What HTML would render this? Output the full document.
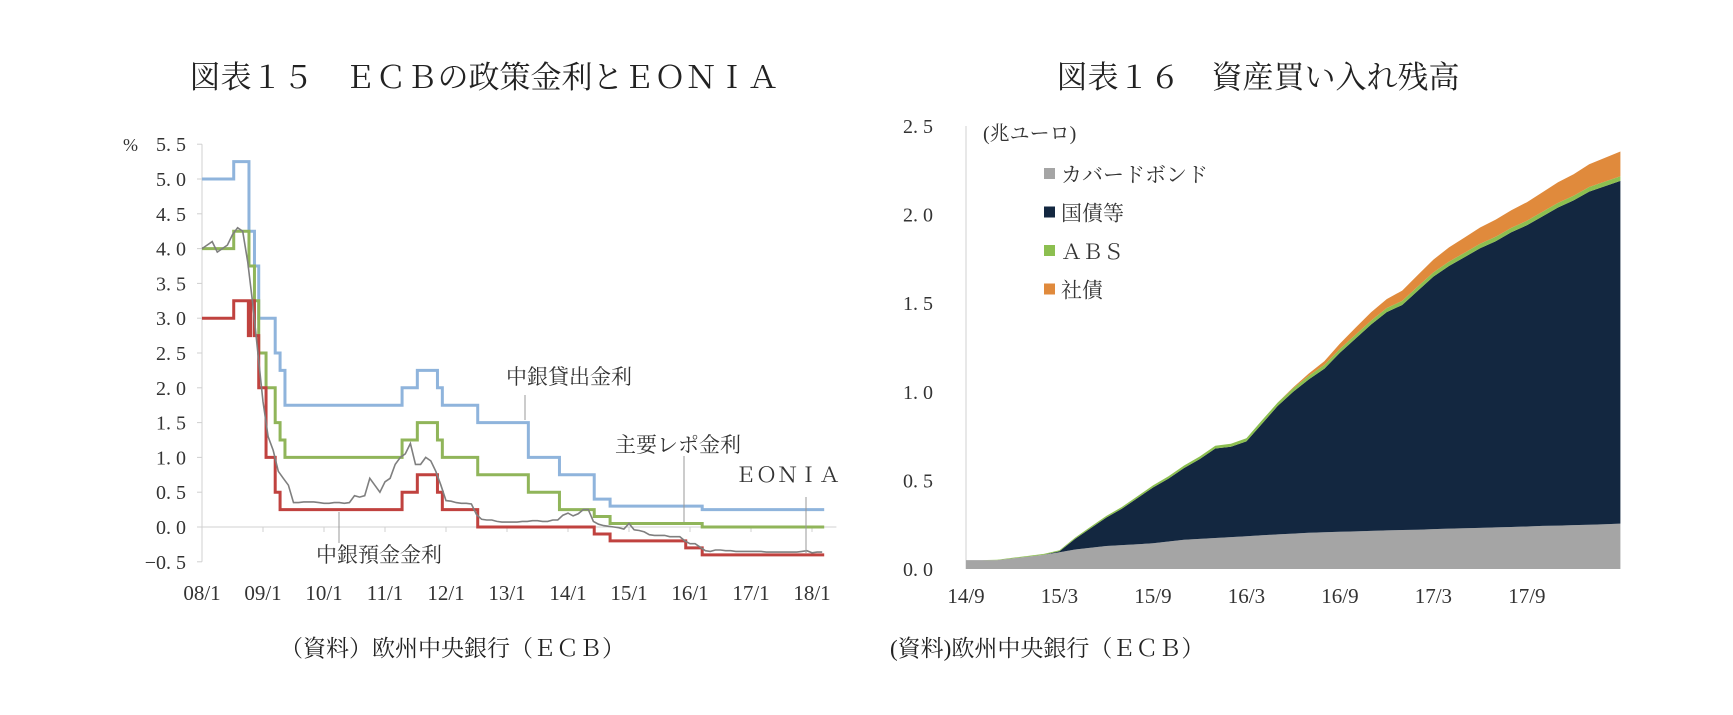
<!DOCTYPE html>
<html><head><meta charset="utf-8"><style>
body{margin:0;background:#fff}
svg{display:block;font-family:"Liberation Serif","Noto Serif CJK SC",serif}
</style></head><body>
<svg id="s" width="1733" height="715" viewBox="0 0 1733 715">
<text x="484" y="88" font-size="31" text-anchor="middle" fill="#222">図表１５　ＥＣＢの政策金利とＥＯＮＩＡ</text>
<text x="1258" y="88" font-size="31" text-anchor="middle" fill="#222">図表１６　資産買い入れ残高</text>
<g id="L"></g>
<g id="R"></g>
<text x="280" y="656" font-size="23" fill="#222">（資料）欧州中央銀行（ＥＣＢ）</text>
<text x="890" y="656" font-size="23" fill="#222">(資料)欧州中央銀行（ＥＣＢ）</text>
</svg>
<script>
// ---- Left chart data (dates = years since 2008/1) ----
const yTicksL = [-0.5,0,0.5,1,1.5,2,2.5,3,3.5,4,4.5,5,5.5];
const xLabelsL = ["08/1","09/1","10/1","11/1","12/1","13/1","14/1","15/1","16/1","17/1","18/1"];
const lendDates = [0,0.52,0.77,0.86,0.93,1.05,1.2,1.28,1.36,3.28,3.53,3.86,3.94,4.52,5.35,5.86,6.43,6.69,8.2];
const lendValues= [5.0,5.25,4.25,3.75,3.0,3.0,2.5,2.25,1.75,2.0,2.25,2.0,1.75,1.5,1.0,0.75,0.4,0.3,0.25];
const mroDates  = [0,0.52,0.77,0.86,0.93,1.05,1.2,1.28,1.36,3.28,3.53,3.86,3.94,4.52,5.35,5.86,6.43,6.69,8.2];
const mroValues = [4.0,4.25,3.75,3.25,2.5,2.0,1.5,1.25,1.0,1.25,1.5,1.25,1.0,0.75,0.5,0.25,0.15,0.05,0.0];
const depDates  = [0,0.52,0.76,0.8,0.86,0.93,1.05,1.2,1.28,3.28,3.53,3.86,3.94,4.52,6.43,6.69,7.93,8.2];
const depValues = [3.0,3.25,2.75,3.25,2.75,2.0,1.0,0.5,0.25,0.5,0.75,0.5,0.25,0.0,-0.1,-0.2,-0.3,-0.4];
const eoniaValues = [
4.0,4.05,4.1,3.95,4.0,4.05,4.2,4.3,4.25,3.8,3.2,2.5,
1.8,1.3,1.1,0.8,0.7,0.6,0.35,0.35,0.36,0.36,0.36,0.35,
0.34,0.34,0.35,0.35,0.34,0.35,0.45,0.43,0.45,0.7,0.6,0.5,
0.65,0.7,0.9,1.0,1.05,1.2,0.9,0.9,1.0,0.95,0.8,0.6,
0.38,0.37,0.35,0.34,0.34,0.33,0.18,0.11,0.1,0.1,0.08,0.07,
0.07,0.07,0.07,0.08,0.08,0.09,0.09,0.08,0.08,0.1,0.1,0.17,
0.2,0.16,0.19,0.25,0.25,0.08,0.04,0.02,0.01,0.0,-0.01,-0.03,
0.05,-0.04,-0.05,-0.07,-0.11,-0.12,-0.12,-0.12,-0.14,-0.14,-0.14,-0.2,
-0.24,-0.24,-0.29,-0.34,-0.35,-0.33,-0.33,-0.34,-0.34,-0.35,-0.35,-0.35,
-0.35,-0.35,-0.35,-0.36,-0.36,-0.36,-0.36,-0.36,-0.36,-0.36,-0.35,-0.34,
-0.37,-0.36,-0.36];
const endDateL = 10.2;

// ---- Right chart data (months since 2014/9) ----
const yTicksR = [0,0.5,1,1.5,2,2.5];
const xLabelsR = ["14/9","15/3","15/9","16/3","16/9","17/3","17/9"];
const coveredValues = [.05,.05,.05,.06,.07,.08,.095,.11,.12,.13,.135,.14,.145,.155,.165,.17,.175,.18,.185,.19,.195,.2,.205,.207,.21,.212,.215,.218,.22,.222,.225,.228,.23,.232,.235,.237,.24,.243,.245,.248,.25,.253,.256];
const govValues = [0,0,0,0,0,0,.005,.06,.11,.16,.205,.26,.315,.355,.405,.45,.505,.51,.535,.63,.725,.8,.865,.923,1.01,1.088,1.165,1.232,1.27,1.348,1.425,1.482,1.53,1.578,1.615,1.663,1.7,1.747,1.795,1.832,1.88,1.907,1.934];
const absValues = [0,0,.002,.003,.004,.005,.006,.007,.008,.009,.01,.011,.012,.013,.014,.015,.016,.017,.018,.019,.019,.02,.021,.022,.022,.022,.022,.023,.023,.024,.024,.025,.025,.025,.025,.025,.025,.026,.026,.026,.026,.026,.026];
const corpValues = [0,0,0,0,0,0,0,0,0,0,0,0,0,0,0,0,0,0,0,0,0,.005,.012,.02,.03,.04,.047,.05,.058,.065,.072,.08,.086,.092,.097,.1,.105,.11,.116,.122,.128,.134,.14];
const legendLabels = ["カバードボンド","国債等","ＡＢＳ","社債"];

const NS="http://www.w3.org/2000/svg";
function mk(parent,tag,attrs,text){const e=document.createElementNS(NS,tag);for(const k in attrs)e.setAttribute(k,attrs[k]);if(text!==undefined)e.textContent=text;parent.appendChild(e);return e;}

// ---- left axes ----
const L=document.getElementById('L');
const lx=t=>202+t*61, ly=v=>527-v*69.6;
let e;
e=mk(L,'line',{x1:202,y1:ly(5.5),x2:202,y2:ly(-0.5),stroke:'#d0d0d0'});


e=mk(L,'line',{x1:202,y1:ly(0),x2:lx(10.4),y2:ly(0),stroke:'#d0d0d0'});


yTicksL.forEach(v=>{
  mk(L,'line',{x1:197,y1:ly(v),x2:202,y2:ly(v),stroke:'#d0d0d0'});
  e=mk(L,'text',{x:186,y:ly(v)+7,'font-size':20,'text-anchor':'end',fill:'#333'},(v<0?'−':'')+Math.abs(v).toFixed(1).replace('.','. '));
  
  
});
e=mk(L,'text',{x:123,y:ly(5.5)+7,'font-size':18,fill:'#333'},'%');


xLabelsL.forEach((s,i)=>{
  if(i>0) mk(L,'line',{x1:lx(i),y1:ly(0),x2:lx(i),y2:ly(0)+5,stroke:'#d0d0d0'});
  e=mk(L,'text',{x:lx(i),y:600,'font-size':21,'text-anchor':'middle',fill:'#333'},s);
  
  
});
function stepPath(d,v){let p='M'+lx(d[0])+','+ly(v[0]);for(let i=1;i<d.length;i++){p+='H'+lx(d[i])+'V'+ly(v[i]);}return p+'H'+lx(endDateL);}
let ep='';eoniaValues.forEach((v,i)=>{ep+=(i?'L':'M')+lx(i/12).toFixed(1)+','+ly(v).toFixed(1);});
e=mk(L,'path',{d:stepPath(lendDates,lendValues),fill:'none',stroke:'#8fb4dc','stroke-width':3});


e=mk(L,'path',{d:stepPath(mroDates,mroValues),fill:'none',stroke:'#90b55a','stroke-width':3});


e=mk(L,'path',{d:stepPath(depDates,depValues),fill:'none',stroke:'#c0423f','stroke-width':3});


e=mk(L,'path',{d:ep,fill:'none',stroke:'#7f7f7f','stroke-width':1.6});


const anns=[["中銀貸出金利",506,384,525,395,420],["主要レポ金利",615,452,684,456,522],["ＥＯＮＩＡ",735,482,806,497,553],["中銀預金金利",316,562,339,543,512]];
anns.forEach(a=>{
  e=mk(L,'text',{x:a[1],y:a[2],'font-size':21,fill:'#333'},a[0]);
  
  
  mk(L,'line',{x1:a[3],y1:a[4],x2:a[3],y2:a[5],stroke:'#999','stroke-width':1});
});

// ---- right chart ----
const R=document.getElementById('R');
const rx=i=>966+i*15.58, ry=v=>569-v*177.2;
e=mk(R,'line',{x1:966,y1:ry(2.5),x2:966,y2:ry(0),stroke:'#d0d0d0'});


yTicksR.forEach(v=>{
  e=mk(R,'text',{x:933,y:ry(v)+7,'font-size':20,'text-anchor':'end',fill:'#333'},v.toFixed(1).replace('.','. '));
  
  
});
xLabelsR.forEach((s,i)=>{
  e=mk(R,'text',{x:rx(i*6),y:603,'font-size':21,'text-anchor':'middle',fill:'#333'},s);
  
  
});
const layers=[[coveredValues,'#a5a5a5','covered-bond-area'],[govValues,'#132740','government-bond-area'],[absValues,'#8cbf50','abs-area'],[corpValues,'#e08a3c','corporate-bond-area']];
const base=coveredValues.map(()=>0);
layers.forEach(([vals,col,name])=>{
  const top=base.map((b,i)=>b+vals[i]);
  let p='';top.forEach((v,i)=>{p+=(i?'L':'M')+rx(i).toFixed(1)+','+ry(v).toFixed(1);});
  for(let i=base.length-1;i>=0;i--)p+='L'+rx(i).toFixed(1)+','+ry(base[i]).toFixed(1);
  e=mk(R,'path',{d:p+'Z',fill:col});
  
  
  top.forEach((v,i)=>base[i]=v);
});
e=mk(R,'text',{x:983,y:140,'font-size':20,fill:'#333'},'(兆ユーロ)');


legendLabels.forEach((s,i)=>{
  const y=174+i*38.5;
  e=mk(R,'rect',{x:1044,y:y-6,width:11,height:11,fill:layers[i][1]});
  
  
  e=mk(R,'text',{x:1061,y:y+8,'font-size':21,fill:'#333'},s);
  
  
});
</script>
</body></html>
